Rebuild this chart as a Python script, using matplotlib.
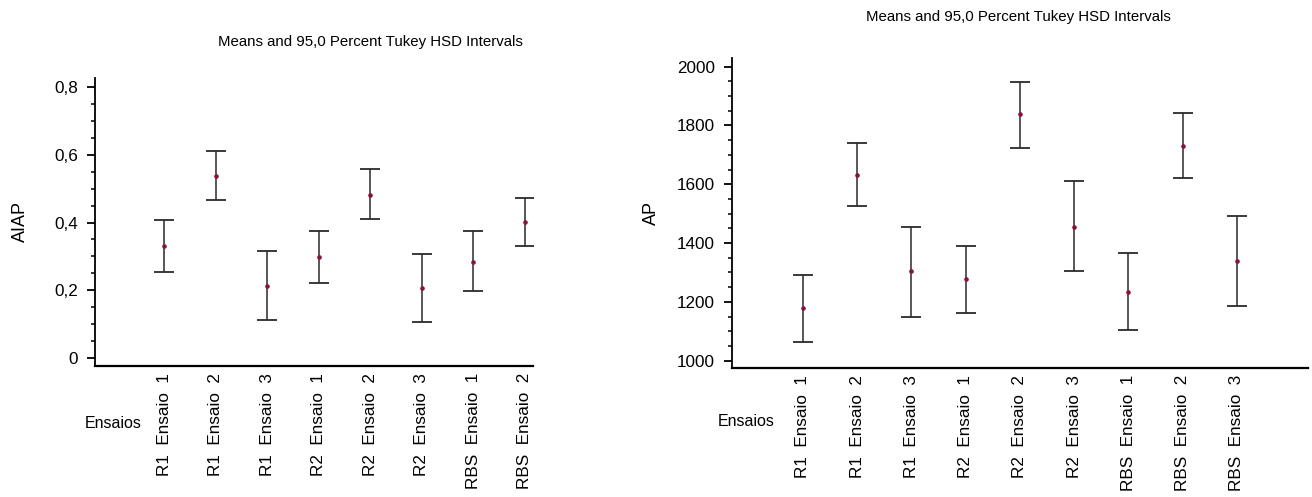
import matplotlib
matplotlib.use("Agg")
import matplotlib.pyplot as plt
from matplotlib.ticker import MultipleLocator, FuncFormatter

# ---- data ----
cats_left = ["R1  Ensaio  1", "R1  Ensaio  2", "R1  Ensaio  3", "R2  Ensaio  1",
             "R2  Ensaio  2", "R2  Ensaio  3", "RBS  Ensaio  1", "RBS  Ensaio  2"]
aiap_mean = [0.331, 0.536, 0.214, 0.299, 0.482, 0.208, 0.285, 0.401]
aiap_low = [0.254, 0.465, 0.113, 0.223, 0.409, 0.107, 0.198, 0.330]
aiap_high = [0.406, 0.611, 0.315, 0.376, 0.557, 0.308, 0.375, 0.472]

cats_right = ["R1  Ensaio  1", "R1  Ensaio  2", "R1  Ensaio  3", "R2  Ensaio  1",
              "R2  Ensaio  2", "R2  Ensaio  3", "RBS  Ensaio  1", "RBS  Ensaio  2",
              "RBS  Ensaio  3"]
ap_mean = [1179, 1632, 1305, 1277, 1839, 1456, 1234, 1729, 1340]
ap_low = [1062, 1527, 1150, 1161, 1725, 1305, 1105, 1622, 1185]
ap_high = [1290, 1739, 1456, 1389, 1947, 1610, 1365, 1843, 1491]

title_text = "Means and 95,0 Percent Tukey HSD Intervals"

NARROW = ["Liberation Sans Narrow", "Liberation Sans", "DejaVu Sans"]
REG = ["Liberation Sans", "DejaVu Sans"]

fig = plt.figure(figsize=(13.12, 4.97), dpi=100)
W, H = 1312, 497


def rect(x0, x1, ytop, ybot):
    return [x0 / W, 1 - ybot / H, (x1 - x0) / W, (ybot - ytop) / H]


def draw(ax, cats, mean, low, high, xlim, ylim, major, minor, fmt, ylabel):
    x = list(range(len(cats)))
    yerr = [[m - l for m, l in zip(mean, low)], [h - m for m, h in zip(mean, high)]]
    ax.errorbar(x, mean, yerr=yerr, fmt="none", ecolor="#2a2a2a", elinewidth=1.1,
                capsize=7.2, capthick=1.3)
    ax.plot(x, mean, "o", color="#8a1040", markersize=3.3, markeredgewidth=0)
    ax.set_xlim(*xlim)
    ax.set_ylim(*ylim)
    ax.spines["top"].set_visible(False)
    ax.spines["right"].set_visible(False)
    ax.spines["left"].set_linewidth(1.3)
    ax.spines["bottom"].set_linewidth(1.6)
    ax.yaxis.set_major_locator(MultipleLocator(major))
    ax.yaxis.set_minor_locator(MultipleLocator(minor))
    ax.yaxis.set_major_formatter(FuncFormatter(fmt))
    ax.tick_params(axis="y", which="major", direction="out", length=6, width=1.3, pad=6)
    ax.tick_params(axis="y", which="minor", direction="out", length=3, width=1.1)
    ax.set_xticks(x)
    ax.set_xticklabels(cats, rotation=90, fontfamily=REG, fontsize=12.3)
    ax.tick_params(axis="x", length=0, pad=5)
    for lab in ax.get_yticklabels():
        lab.set_fontfamily(NARROW)
        lab.set_fontsize(12.3)
    ax.set_ylabel(ylabel, fontfamily=REG, fontsize=13)


ax1 = fig.add_axes(rect(95, 532.7, 78.3, 365.7))
draw(ax1, cats_left, aiap_mean, aiap_low, aiap_high, (-1.34, 7.15), (-0.022, 0.825),
     0.2, 0.05, lambda v, p: ("0" if abs(v) < 1e-9 else f"{v:.1f}".replace(".", ",")), "AIAP")
ax1.yaxis.set_label_coords((20 - 95) / (532.7 - 95), 0.5)

ax2 = fig.add_axes(rect(731.7, 1308, 58.3, 368.3))
draw(ax2, cats_right, ap_mean, ap_low, ap_high, (-1.31, 9.31), (974, 2028.6),
     200, 50, lambda v, p: f"{v:.0f}", "AP")
ax2.yaxis.set_label_coords((651 - 731.7) / (1308 - 731.7), 0.5)
for ax in (ax1, ax2):
    ax.yaxis.label.set_va("center")

fig.text(370 / W, 1 - 42 / H, title_text, ha="center", va="center",
         fontfamily=NARROW, fontsize=10.8)
fig.text(1018 / W, 1 - 17 / H, title_text, ha="center", va="center",
         fontfamily=NARROW, fontsize=10.8)
fig.text(113 / W, 1 - 423 / H, "Ensaios", ha="center", va="center",
         fontfamily=NARROW, fontsize=11.5)
fig.text(746 / W, 1 - 422 / H, "Ensaios", ha="center", va="center",
         fontfamily=NARROW, fontsize=11.5)

fig.savefig("out.png", dpi=100)
